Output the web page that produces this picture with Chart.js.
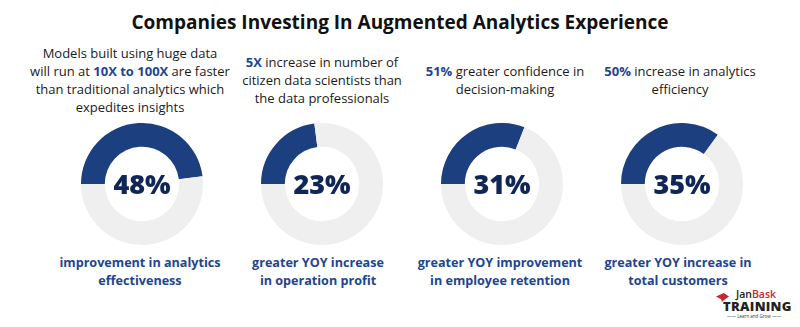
<!DOCTYPE html>
<html>
<head>
<meta charset="utf-8">
<script src="https://cdn.jsdelivr.net/npm/chart.js@4.4.0/dist/chart.umd.min.js"></script>
<style>
  html,body{margin:0;padding:0;background:#fff;}
  body{width:800px;height:327px;position:relative;overflow:hidden;font-family:"Open Sans",Inter,sans-serif;}
  #title{position:absolute;left:0;top:9px;width:800px;text-align:center;font-weight:700;font-size:19px;color:#111;}
  .top{position:absolute;width:200px;text-align:center;font-size:13px;line-height:18px;color:#1a1a1a;}
  .top b{color:#1d4593;font-weight:700;}
  .bot{position:absolute;width:200px;text-align:center;font-size:12.6px;line-height:18px;color:#1d4593;font-weight:700;}
  .cv{position:absolute;width:122px;height:122px;}
  #logo{position:absolute;left:716px;top:289px;width:80px;font-family:"Open Sans",sans-serif;}
</style>
</head>
<body>
<div id="title">Companies Investing In Augmented Analytics Experience</div>
<div id="charts"></div>
<div id="logo">
  <div style="position:absolute;left:0;top:4px;width:13px;height:9px;background:#c8282e;clip-path:polygon(0 40%,60% 0,100% 40%,60% 80%,45% 100%,40% 70%);"></div>
  <div style="position:absolute;left:20px;top:-2px;font-size:10.5px;font-weight:600;color:#222;">Jan<span style="color:#c8282e">Bask</span></div>
  <div style="position:absolute;left:7px;top:8px;font-size:13px;font-weight:800;color:#222;letter-spacing:0.3px;">TRAINING</div>
  <div style="position:absolute;left:0;top:24px;width:76px;text-align:center;font-size:4.5px;color:#333;">&mdash;&mdash; Learn and Grow &mdash;&mdash;</div>
</div>
<script>
const categories = ["improvement in analytics\neffectiveness","greater YOY increase\nin operation profit","greater YOY improvement\nin employee retention","greater YOY increase in\ntotal customers"];
const values = [48, 23, 31, 35];
const topTexts = [
  "Models built using huge data\nwill run at <b>10X to 100X</b> are faster\nthan traditional analytics which\nexpedites insights",
  "<b>5X</b> increase in number of\ncitizen data scientists than\nthe data professionals",
  "<b>51%</b> greater confidence in\ndecision-making",
  "<b>50%</b> increase in analytics\nefficiency"
];
const centersX = [142, 322, 502, 682];
const topY = [44, 53, 62, 62];
const blue = "#1c3f80", gray = "#efefef";

const container = document.getElementById('charts');
values.forEach((v, i) => {
  const cx = centersX[i];
  const t = document.createElement('div');
  t.className = 'top';
  t.style.left = (i===0 ? 30 : i===1 ? 222 : i===2 ? 405 : 580) + 'px';
  t.style.top = topY[i] + 'px';
  t.innerHTML = topTexts[i].replace(/\n/g, '<br>');
  container.appendChild(t);

  const b = document.createElement('div');
  b.className = 'bot';
  b.style.left = (i===0 ? 40 : i===1 ? 218 : i===2 ? 400 : 578) + 'px';
  b.style.top = '254px';
  b.innerHTML = categories[i].replace(/\n/g, '<br>');
  container.appendChild(b);

  const wrap = document.createElement('div');
  wrap.className = 'cv';
  wrap.style.left = (cx - 61) + 'px';
  wrap.style.top = (183.5 - 61) + 'px';
  const c = document.createElement('canvas');
  wrap.appendChild(c);
  container.appendChild(wrap);

  new Chart(c, {
    type: 'doughnut',
    data: {
      labels: ['value', 'rest'],
      datasets: [{ data: [v, 100 - v], backgroundColor: [blue, gray], borderWidth: 0, hoverOffset: 0 }]
    },
    options: {
      responsive: true, maintainAspectRatio: false, animation: false,
      rotation: 270, cutout: '61%',
      layout: { padding: 0 },
      plugins: { legend: { display: false }, tooltip: { enabled: false } },
      events: []
    },
    plugins: [{
      id: 'centerText',
      afterDraw(chart) {
        const { ctx } = chart;
        const meta = chart.getDatasetMeta(0).data[0];
        ctx.save();
        ctx.font = '800 27px "Open Sans", sans-serif';
        ctx.fillStyle = '#0f2656';
        ctx.textAlign = 'center';
        ctx.textBaseline = 'middle';
        ctx.fillText(v + '%', meta.x, meta.y + 2);
        ctx.restore();
      }
    }]
  });
});
</script>
</body>
</html>
